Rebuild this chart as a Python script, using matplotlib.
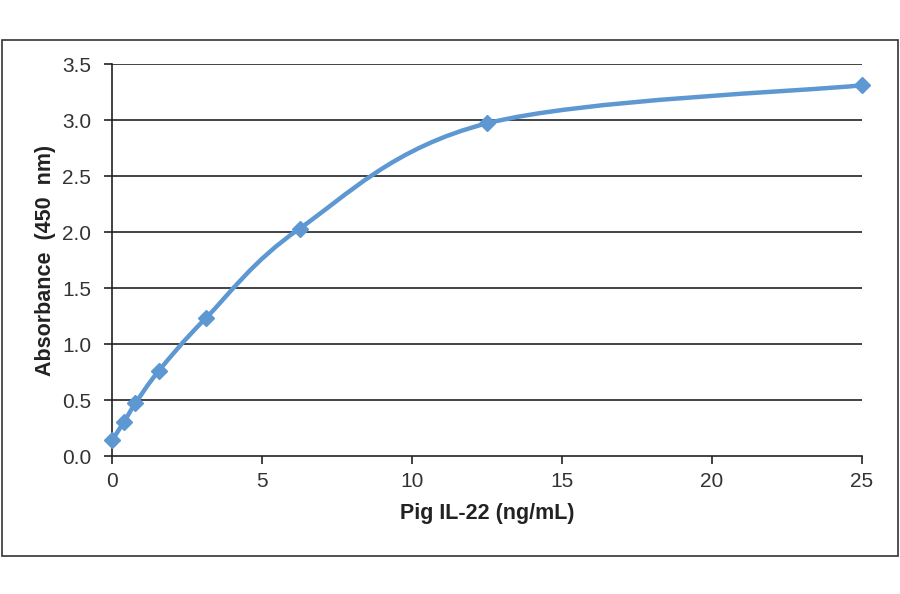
import numpy as np
import matplotlib
matplotlib.use("Agg")
import matplotlib.pyplot as plt
from matplotlib.patches import Rectangle
from matplotlib.path import Path
from matplotlib.patches import PathPatch

conc = [0.0, 0.39, 0.78, 1.56, 3.125, 6.25, 12.5, 25.0]
absorb = [0.14, 0.30, 0.47, 0.76, 1.23, 2.03, 2.97, 3.31]
xticks = [0, 5, 10, 15, 20, 25]
yticks = [0.0, 0.5, 1.0, 1.5, 2.0, 2.5, 3.0, 3.5]

plt.rcParams['font.family'] = ['Liberation Sans', 'DejaVu Sans']
color = '#5E98D2'

fig = plt.figure(figsize=(9, 5.94), dpi=100)
ax = fig.add_axes([112/900, 1-456/594, 750/900, 392/594])
ax.set_xlim(0, 25)
ax.set_ylim(0, 3.5)

# border around chart
fig.patches.append(Rectangle((2/900, 1-556/594), 896/900, 516/594,
                             transform=fig.transFigure, fill=False,
                             edgecolor='#333333', linewidth=1.2, zorder=0))

# gridlines
for t in yticks[1:]:
    ax.axhline(t, color='#222222', linewidth=1.2, zorder=1)

for s in ['top', 'right']:
    ax.spines[s].set_visible(False)
for s in ['left', 'bottom']:
    ax.spines[s].set_color('#222222')
    ax.spines[s].set_linewidth(1.2)

ax.set_xticks(xticks)
ax.set_xticklabels([str(t) for t in xticks])
ax.set_yticks(yticks)
ax.set_yticklabels([f"{t:.1f}" for t in yticks])
ax.tick_params(axis='both', direction='out', length=5.5, width=1.2,
               color='#222222', labelsize=15, labelcolor='#333333')
ax.tick_params(axis='y', pad=9.5)
ax.tick_params(axis='x', pad=6)

ax.set_xlabel('Pig IL-22 (ng/mL)', fontsize=15.5, fontweight='bold',
              color='#222222', labelpad=9)
ax.set_ylabel('Absorbance  (450  nm)', fontsize=15.5, fontweight='bold',
              color='#222222', labelpad=4)

# Excel-style smoothed line (Bezier through points in display space)
fig.canvas.draw()
pts = ax.transData.transform(np.column_stack([conc, absorb]))
n = len(pts)
verts = [pts[0]]
codes = [Path.MOVETO]
for i in range(n - 1):
    p0 = pts[i - 1] if i > 0 else pts[i]
    p1 = pts[i]
    p2 = pts[i + 1]
    p3 = pts[i + 2] if i + 2 < n else pts[i + 1]
    c1 = p1 + (p2 - p0) / 6.0
    c2 = p2 - (p3 - p1) / 6.0
    verts += [c1, c2, p2]
    codes += [Path.CURVE4] * 3
inv = ax.transData.inverted()
verts_data = inv.transform(np.array(verts))
path = Path(verts_data, codes)
ax.add_patch(PathPatch(path, transform=ax.transData, fill=False,
                       edgecolor=color, linewidth=3.2, zorder=3,
                       capstyle='round', joinstyle='round'))
ax.plot(conc, absorb, linestyle='none', marker='D', markersize=8.5,
        color=color, zorder=4, clip_on=False)

fig.savefig('out.png', dpi=100)
